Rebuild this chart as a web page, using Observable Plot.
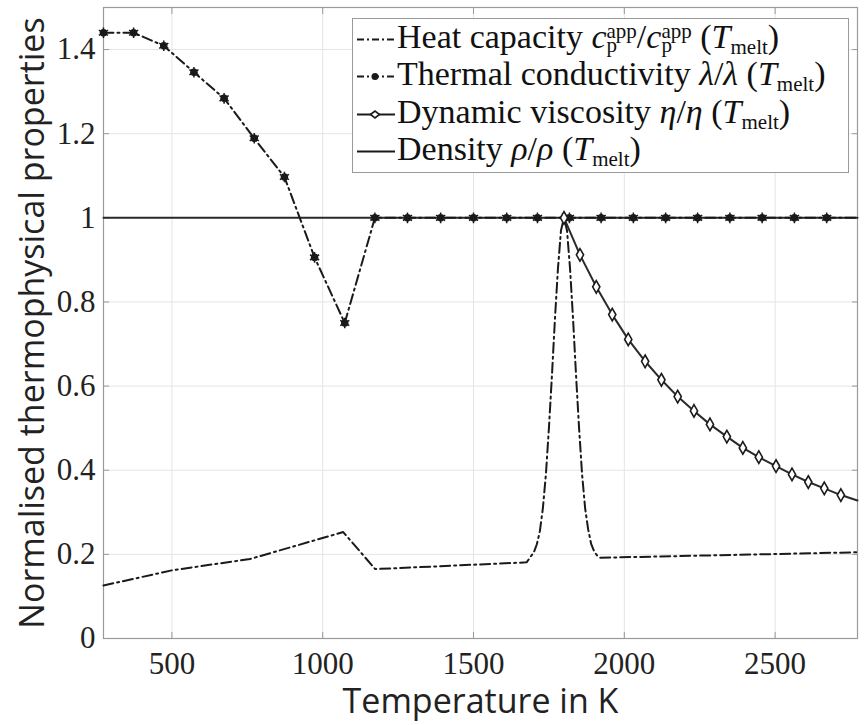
<!DOCTYPE html>
<html><head><meta charset="utf-8">
<script src="https://cdn.jsdelivr.net/npm/d3@7"></script>
<script src="https://cdn.jsdelivr.net/npm/@observablehq/plot@0.6"></script>
<style>
body{margin:0;background:#fff;}
#wrap{position:relative;width:864px;height:725px;overflow:hidden;}
#legend{position:absolute;left:352px;top:18px;width:497px;height:155px;border:1px solid #9a9a9a;background:#fff;box-sizing:border-box;font-family:"Liberation Serif",serif;font-size:34px;color:#111;}
.row{position:absolute;left:0;height:37px;display:flex;align-items:center;white-space:nowrap;}
.row svg{flex:none;margin-left:2px;margin-right:2px;}
.ss{display:inline-block;vertical-align:-4px;line-height:14px;font-size:21px;text-align:left;}
.sub{font-size:21px;vertical-align:-6px;}
</style>
</head><body>
<div id="wrap"></div>
<script>
// ---- data ----
const tempTicks = [500, 1000, 1500, 2000, 2500];
const tempTickLabels = ["500", "1000", "1500", "2000", "2500"];
const yTicks = [0, 0.2, 0.4, 0.6, 0.8, 1, 1.2, 1.4];
const yTickLabels = ["0", "0.2", "0.4", "0.6", "0.8", "1", "1.2", "1.4"];

// Heat capacity c_p^app / c_p^app(T_melt)
const cpT = [273, 500, 759, 1068, 1174, 1676, 1700, 1710, 1720, 1730, 1740, 1750, 1760, 1770, 1780, 1790, 1800, 1810, 1820, 1830, 1840, 1850, 1860, 1870, 1880, 1890, 1900, 1910, 1920, 2383, 2773];
const cpV = [0.126, 0.162, 0.189, 0.253, 0.165, 0.181, 0.205, 0.224, 0.255, 0.31, 0.39, 0.50, 0.625, 0.76, 0.88, 0.97, 1.0, 0.97, 0.88, 0.76, 0.625, 0.50, 0.39, 0.31, 0.26, 0.225, 0.207, 0.197, 0.192, 0.199, 0.205];

// Thermal conductivity lambda / lambda(T_melt)
const lamT = [273, 373, 473, 573, 673, 773, 873, 973, 1073, 1173, 1281, 1391, 1500, 1610, 1712, 1818, 1923, 2030, 2137, 2243, 2350, 2457, 2564, 2671, 2773];
const lamV = [1.44, 1.44, 1.409, 1.346, 1.284, 1.189, 1.097, 0.906, 0.750, 1, 1, 1, 1, 1, 1, 1, 1, 1, 1, 1, 1, 1, 1, 1, 1];

// Dynamic viscosity eta / eta(T_melt)
const etaT = [1800, 1853, 1907, 1960, 2013, 2069, 2123, 2177, 2231, 2284, 2340, 2393, 2446, 2503, 2556, 2610, 2663, 2718, 2773];
const etaV = [1.0, 0.912, 0.836, 0.770, 0.711, 0.659, 0.615, 0.575, 0.541, 0.509, 0.480, 0.453, 0.431, 0.410, 0.390, 0.372, 0.357, 0.341, 0.328];

// Density rho / rho(T_melt)
const rhoT = [273.15, 2773.15];
const rhoV = [1, 1];

const xDomain = [273.15, 2773.15];
const yDomain = [0, 1.5];

const toRows = (T, V) => T.map((t, i) => ({t, v: V[i], last: i === T.length - 1}));
const cp = toRows(cpT, cpV);
const lam = toRows(lamT, lamV);
const eta = toRows(etaT, etaV);
const rho = toRows(rhoT, rhoV);

const ink = "#1a1a1a";
const frameC = "#9a9a9a";
const gridC = "#e4e4e4";
const dashDot = "10,4,2,4";
const blank = () => "";

const chart = Plot.plot({
  width: 864, height: 725,
  marginLeft: 103, marginRight: 7, marginTop: 7, marginBottom: 87,
  x: {domain: xDomain},
  y: {domain: yDomain},
  style: {fontFamily: "'Liberation Serif', serif", fontSize: "31px", color: "#222", background: "white", overflow: "visible"},
  marks: [
    Plot.gridX(tempTicks, {stroke: gridC, strokeOpacity: 1, strokeWidth: 1}),
    Plot.gridY(yTicks, {stroke: gridC, strokeOpacity: 1, strokeWidth: 1}),
    Plot.axisX(tempTicks, {anchor: "bottom", tickSize: -6, stroke: frameC, tickFormat: blank, label: null}),
    Plot.axisX(tempTicks, {anchor: "top", tickSize: -6, stroke: frameC, tickFormat: blank, label: null}),
    Plot.axisY(yTicks, {anchor: "left", tickSize: -6, stroke: frameC, tickFormat: blank, label: null}),
    Plot.axisY(yTicks, {anchor: "right", tickSize: -6, stroke: frameC, tickFormat: blank, label: null}),
    Plot.axisX(tempTicks, {anchor: "bottom", tickSize: 0, tickPadding: 13, label: null, fill: "#222", tickFormat: (d, i) => tempTickLabels[i]}),
    Plot.axisY(yTicks, {anchor: "left", tickSize: 0, tickPadding: 8, label: null, fill: "#222", tickFormat: (d, i) => yTickLabels[i]}),
    Plot.frame({stroke: frameC, strokeWidth: 1.2}),
    Plot.line(rho, {x: "t", y: "v", stroke: "#2a2a2a", strokeWidth: 2}),
    Plot.line(cp, {x: "t", y: "v", stroke: ink, strokeWidth: 2, strokeDasharray: dashDot}),
    Plot.line(lam, {x: "t", y: "v", stroke: ink, strokeWidth: 2, strokeDasharray: dashDot}),
    Plot.dot(lam, {filter: d => !d.last, x: "t", y: "v", r: 3.8, fill: ink, stroke: null}),
    Plot.dot(lam, {filter: d => !d.last, x: "t", y: "v", r: 5, symbol: "asterisk", stroke: ink, strokeWidth: 1.5}),
    Plot.line(eta, {x: "t", y: "v", stroke: "#2a2a2a", strokeWidth: 2}),
    Plot.dot(eta, {filter: d => !d.last, x: "t", y: "v", r: 3.8, symbol: "diamond", fill: "white", stroke: ink, strokeWidth: 1.6}),
    Plot.text(["Temperature in K"], {frameAnchor: "bottom", dy: 74, fontSize: 34, fontFamily: "'Open Sans', sans-serif", fill: "#222"}),
    Plot.text(["Normalised thermophysical properties"], {frameAnchor: "left", textAnchor: "middle", dx: -70, rotate: -90, fontSize: 34, fontFamily: "'Open Sans', sans-serif", fill: "#222"})
  ]
});

const wrap = document.getElementById("wrap");
wrap.appendChild(chart);

// ---- legend (overlay inside axes) ----
const legendEntries = [
  {kind: "cp", html: 'Heat capacity&nbsp;<i>c</i><span class="ss">app<br>p</span>/<i>c</i><span class="ss">app<br>p</span>&nbsp;(<i>T</i><span class="sub">melt</span>)'},
  {kind: "lam", html: 'Thermal conductivity&nbsp;<i>λ</i>/<i>λ</i>&nbsp;(<i>T</i><span class="sub">melt</span>)'},
  {kind: "eta", html: 'Dynamic viscosity&nbsp;<i>η</i>/<i>η</i>&nbsp;(<i>T</i><span class="sub">melt</span>)'},
  {kind: "rho", html: 'Density&nbsp;<i>ρ</i>/<i>ρ</i>&nbsp;(<i>T</i><span class="sub">melt</span>)'}
];
const rowCenters = [20, 57, 95, 132];
const legend = document.createElement("div");
legend.id = "legend";
legendEntries.forEach((e, i) => {
  const row = document.createElement("div");
  row.className = "row";
  row.style.top = (rowCenters[i] - 18.5) + "px";
  let sample = `<svg width="40" height="37" viewBox="0 0 40 37">`;
  const dash = (e.kind === "cp" || e.kind === "lam") ? `stroke-dasharray="7,3,2,3"` : "";
  sample += `<line x1="2" x2="40" y1="18.5" y2="18.5" stroke="${ink}" stroke-width="2" ${dash}/>`;
  if (e.kind === "lam") sample += `<circle cx="20" cy="18.5" r="3.5" fill="${ink}"/>`;
  if (e.kind === "eta") sample += `<path d="M15.5,18.5L20,15L24.5,18.5L20,22Z" fill="white" stroke="${ink}" stroke-width="1.6"/>`;
  sample += `</svg>`;
  row.innerHTML = sample + `<span>${e.html}</span>`;
  legend.appendChild(row);
});
wrap.appendChild(legend);
</script>
</body></html>
